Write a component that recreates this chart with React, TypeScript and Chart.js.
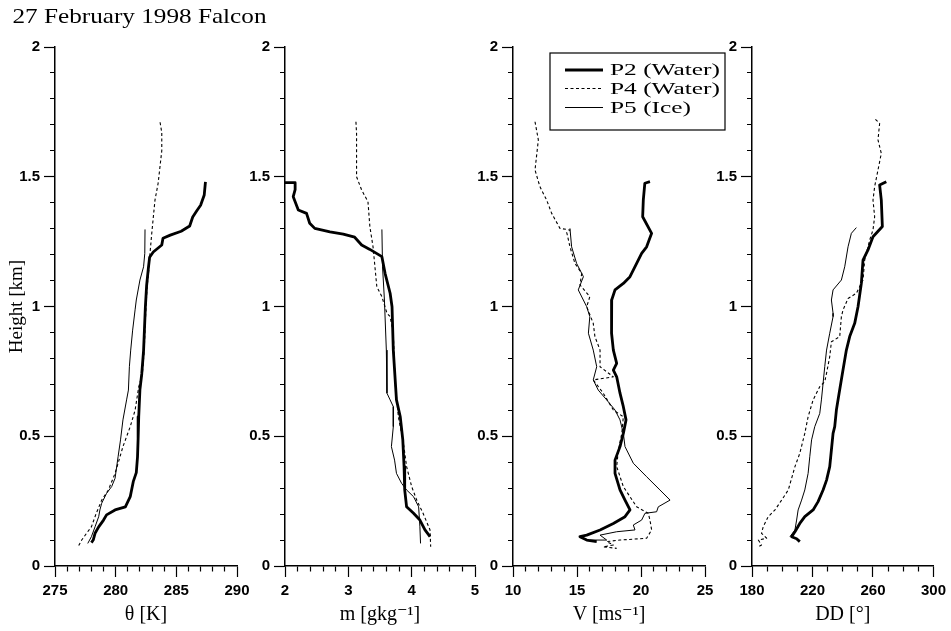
import React, { useEffect, useRef } from "react";
import { Chart, registerables } from "chart.js";

Chart.register(...registerables);

const SERIF = "'Liberation Serif', 'DejaVu Serif', serif";
const SANS = "'Liberation Sans', Arial, sans-serif";

// ---- data: [value, height km], top to bottom ----
const thetaP2 = [[287.4,1.48],[287.3,1.43],[287.0,1.39],[286.7,1.37],[286.35,1.345],[286.1,1.31],[285.4,1.29],[284.5,1.275],[283.9,1.263],[283.8,1.237],[283.1,1.21],[282.8,1.19],[282.7,1.15],[282.55,1.08],[282.45,1.0],[282.3,0.83],[282.15,0.74],[282.0,0.68],[281.9,0.575],[281.85,0.49],[281.8,0.42],[281.7,0.36],[281.45,0.325],[281.2,0.267],[280.8,0.228],[279.95,0.216],[279.25,0.197],[279.0,0.177],[278.6,0.151],[278.3,0.126],[278.15,0.1],[278.0,0.09]];
const thetaP4 = [[283.66,1.71],[283.8,1.67],[283.8,1.6],[283.5,1.475],[283.24,1.41],[282.97,1.28],[282.83,1.205],[282.75,1.15],[282.6,1.08],[282.5,1.0],[282.35,0.83],[282.2,0.74],[281.9,0.69],[281.6,0.6],[281.2,0.537],[280.6,0.46],[280.2,0.396],[279.95,0.357],[279.4,0.293],[278.85,0.254],[278.4,0.203],[278.0,0.151],[277.6,0.126],[277.2,0.1],[276.9,0.074]];
const thetaP5 = [[282.42,1.297],[282.4,1.205],[282.3,1.153],[282.0,1.102],[281.7,1.025],[281.6,0.987],[281.4,0.909],[281.24,0.832],[281.13,0.768],[281.05,0.678],[280.9,0.64],[280.6,0.563],[280.4,0.486],[280.2,0.421],[279.95,0.338],[279.67,0.306],[279.25,0.28],[278.85,0.242],[278.7,0.216],[278.6,0.19],[278.3,0.151],[278.0,0.113],[277.7,0.087]];

const mP2 = [[2.0,1.477],[2.16,1.477],[2.16,1.45],[2.13,1.423],[2.21,1.372],[2.34,1.359],[2.39,1.321],[2.47,1.301],[2.71,1.288],[2.92,1.279],[3.1,1.267],[3.21,1.237],[3.34,1.22],[3.53,1.192],[3.58,1.128],[3.66,1.051],[3.69,0.999],[3.71,0.832],[3.76,0.64],[3.82,0.575],[3.86,0.486],[3.88,0.383],[3.89,0.293],[3.92,0.228],[4.03,0.203],[4.13,0.177],[4.21,0.139],[4.29,0.113]];
const mP4 = [[3.12,1.712],[3.13,1.667],[3.13,1.5],[3.21,1.449],[3.31,1.404],[3.34,1.308],[3.39,1.23],[3.42,1.153],[3.45,1.076],[3.53,1.038],[3.61,0.974],[3.66,0.961],[3.71,0.897],[3.74,0.704],[3.79,0.575],[3.87,0.473],[3.92,0.383],[4.0,0.306],[4.08,0.254],[4.18,0.203],[4.29,0.139],[4.3,0.074]];
const mP5 = [[3.53,1.297],[3.54,1.153],[3.57,1.025],[3.6,0.832],[3.61,0.666],[3.66,0.64],[3.71,0.614],[3.71,0.537],[3.68,0.46],[3.73,0.408],[3.76,0.357],[3.84,0.319],[3.92,0.293],[4.03,0.267],[4.11,0.228],[4.13,0.151],[4.14,0.087]];

const vP2 = [[20.7,1.481],[20.3,1.475],[20.18,1.41],[20.13,1.346],[20.83,1.282],[20.44,1.23],[20.05,1.205],[19.66,1.166],[19.14,1.115],[18.62,1.089],[17.97,1.064],[17.71,1.025],[17.7,0.99],[17.7,0.897],[17.84,0.832],[18.1,0.781],[17.84,0.755],[18.1,0.729],[18.36,0.666],[18.62,0.614],[18.83,0.563],[18.62,0.511],[18.36,0.46],[17.97,0.408],[17.97,0.357],[18.36,0.293],[18.75,0.254],[19.14,0.216],[18.75,0.19],[17.84,0.164],[16.8,0.139],[15.76,0.119],[15.23,0.113],[15.76,0.1],[16.54,0.094]];
const vP4 = [[11.72,1.712],[11.98,1.642],[11.72,1.526],[12.1,1.462],[12.63,1.41],[13.02,1.359],[13.67,1.301],[14.45,1.295],[14.2,1.285],[14.45,1.23],[14.84,1.166],[15.37,1.128],[15.23,1.083],[16.0,1.038],[15.76,0.999],[16.27,0.935],[16.4,0.884],[16.8,0.832],[16.8,0.768],[17.84,0.729],[16.27,0.717],[17.05,0.666],[17.84,0.601],[18.62,0.575],[18.5,0.511],[18.23,0.447],[18.1,0.383],[18.62,0.306],[19.14,0.267],[19.66,0.228],[20.57,0.203],[20.7,0.177],[20.83,0.139],[20.44,0.107],[18.36,0.1],[17.32,0.094],[17.84,0.081],[17.05,0.074],[18.1,0.068]];
const vP5 = [[14.45,1.301],[14.58,1.23],[14.97,1.166],[15.5,1.115],[15.1,1.064],[15.76,0.999],[16.0,0.961],[15.89,0.897],[16.27,0.832],[16.54,0.768],[16.27,0.717],[16.66,0.678],[17.32,0.64],[17.97,0.601],[18.36,0.563],[18.62,0.511],[18.75,0.46],[19.4,0.396],[20.44,0.344],[21.48,0.293],[22.27,0.254],[21.35,0.228],[21.22,0.209],[20.31,0.203],[20.05,0.177],[19.4,0.158],[19.53,0.139],[18.1,0.132],[16.8,0.119],[17.32,0.1],[16.0,0.1]];

const ddP2 = [[268.8,1.481],[264.4,1.468],[265.5,1.41],[266.2,1.308],[260.0,1.269],[256.7,1.218],[253.4,1.179],[252.3,1.089],[250.1,0.999],[247.9,0.935],[244.6,0.884],[242.4,0.832],[239.8,0.743],[237.6,0.666],[235.8,0.601],[234.7,0.537],[233.6,0.511],[232.5,0.447],[231.4,0.383],[229.3,0.331],[227.0,0.293],[223.7,0.248],[220.4,0.216],[214.9,0.19],[211.6,0.164],[208.4,0.132],[206.2,0.113],[209.5,0.105],[211.6,0.094]];
const ddP4 = [[261.6,1.721],[264.4,1.706],[263.3,1.642],[265.5,1.59],[263.3,1.526],[261.1,1.462],[260.0,1.41],[261.1,1.346],[260.0,1.295],[257.8,1.256],[254.5,1.179],[253.4,1.102],[249.0,1.051],[243.5,1.031],[240.2,0.987],[239.1,0.961],[238.0,0.884],[232.5,0.864],[231.4,0.807],[229.3,0.743],[228.1,0.71],[224.8,0.691],[220.4,0.64],[217.1,0.575],[214.9,0.511],[211.6,0.434],[208.4,0.383],[204.0,0.293],[199.6,0.254],[195.2,0.216],[190.7,0.19],[187.4,0.151],[186.3,0.126],[189.7,0.107],[184.2,0.1],[186.3,0.081],[184.2,0.074]];
const ddP5 = [[249.0,1.304],[245.7,1.282],[243.5,1.23],[241.3,1.153],[239.1,1.102],[233.6,1.064],[232.5,1.025],[233.6,0.974],[233.6,0.961],[231.4,0.897],[229.3,0.832],[228.1,0.768],[227.0,0.704],[225.9,0.64],[224.8,0.588],[221.5,0.537],[219.4,0.486],[218.2,0.421],[217.1,0.357],[214.9,0.293],[212.8,0.254],[210.5,0.216],[209.5,0.177],[208.4,0.139],[205.1,0.113]];

const seriesLabels = ["P2 (Water)", "P4 (Water)", "P5 (Ice)"];
const chartTitle = "27 February 1998 Falcon";
const yTitleText = "Height [km]";
const heightRange = [0, 2];

type Panel = {
  left: number; width: number; padRight: number;
  xMin: number; xMax: number; major: number; minor: number;
  xTitle: string; yTitle?: string; title?: boolean; legend?: boolean;
  series: number[][][];
};

const panels: Panel[] = [
  { left: 0, width: 275, padRight: 38, xMin: 275, xMax: 290, major: 5, minor: 1, xTitle: "θ [K]", yTitle: yTitleText, title: true, series: [thetaP2, thetaP4, thetaP5] },
  { left: 230, width: 265, padRight: 20, xMin: 2, xMax: 5, major: 1, minor: 0.2, xTitle: "m [gkg⁻¹]", series: [mP2, mP4, mP5] },
  { left: 458, width: 272, padRight: 25, xMin: 10, xMax: 25, major: 5, minor: 1, xTitle: "V [ms⁻¹]", legend: true, series: [vP2, vP4, vP5] },
  { left: 697, width: 254, padRight: 17, xMin: 180, xMax: 300, major: 40, minor: 10, xTitle: "DD [°]", series: [ddP2, ddP4, ddP5] },
];

const styles = [
  { borderWidth: 2.8, borderDash: [] as number[] },
  { borderWidth: 1.1, borderDash: [3, 2.5] },
  { borderWidth: 1.0, borderDash: [] as number[] },
];

const isMajor = (v: number, base: number, step: number) => {
  const r = (v - base) / step;
  return Math.abs(r - Math.round(r)) < 1e-6;
};
const fmt = (v: number) => String(Math.round(v * 1000) / 1000);

const titlePlugin = {
  id: "mainTitle",
  afterDraw(chart: any) {
    const ctx = chart.ctx;
    ctx.save();
    ctx.font = `21px ${SERIF}`;
    ctx.fillStyle = "#000";
    ctx.textBaseline = "alphabetic";
    const w = ctx.measureText(chartTitle).width;
    const sx = Math.min(1.4, 254 / w);
    ctx.translate(12.5, 23);
    ctx.scale(sx, 1);
    ctx.fillText(chartTitle, 0, 0);
    ctx.restore();
  },
};

const legendPlugin = {
  id: "boxLegend",
  afterDraw(chart: any) {
    const ctx = chart.ctx;
    const { left, top } = chart.chartArea;
    const bx = left + 37, by = top + 6, bw = 175, bh = 77;
    ctx.save();
    ctx.fillStyle = "#fff";
    ctx.fillRect(bx, by, bw, bh);
    ctx.strokeStyle = "#000";
    ctx.lineWidth = 1.2;
    ctx.strokeRect(bx, by, bw, bh);
    const rows = [23, 41.5, 60.5];
    ctx.font = `16px ${SERIF}`;
    const w0 = ctx.measureText(seriesLabels[0]).width;
    const sx = Math.min(1.6, 110 / w0);
    seriesLabels.forEach((lab, i) => {
      const y = top + rows[i];
      ctx.beginPath();
      ctx.lineWidth = styles[i].borderWidth;
      ctx.setLineDash(styles[i].borderDash);
      ctx.moveTo(left + 52, y);
      ctx.lineTo(left + 90, y);
      ctx.stroke();
      ctx.setLineDash([]);
      ctx.save();
      ctx.fillStyle = "#000";
      ctx.textBaseline = "middle";
      ctx.translate(left + 97, y + 1);
      ctx.scale(sx, 1);
      ctx.fillText(lab, 0, 0);
      ctx.restore();
    });
    ctx.restore();
  },
};

function makeConfig(p: Panel): any {
  const datasets = p.series.map((s, i) => ({
    label: seriesLabels[i],
    data: s.map(([x, y]) => ({ x, y })),
    borderColor: "#000",
    backgroundColor: "#000",
    borderWidth: styles[i].borderWidth,
    borderDash: styles[i].borderDash,
    borderJoinStyle: "round",
    borderCapStyle: "butt",
    pointRadius: 0,
    tension: 0,
    fill: false,
  }));
  const tickFont = { family: SANS, size: 15, weight: "bold" };
  const plugins: any[] = [];
  if (p.title) plugins.push(titlePlugin);
  if (p.legend) plugins.push(legendPlugin);
  return {
    type: "line",
    data: { datasets },
    plugins,
    options: {
      responsive: false,
      animation: false,
      devicePixelRatio: 1,
      events: [],
      layout: { padding: { top: 47, bottom: 0, left: 0, right: p.padRight } },
      plugins: { legend: { display: false }, tooltip: { enabled: false }, title: { display: false } },
      scales: {
        x: {
          type: "linear",
          min: p.xMin,
          max: p.xMax,
          afterFit: (s: any) => { s.height = 65; },
          ticks: {
            stepSize: p.minor,
            maxTicksLimit: 500,
            autoSkip: false,
            maxRotation: 0,
            minRotation: 0,
            padding: 5,
            color: "#000",
            font: tickFont,
            callback: (v: any) => (isMajor(Number(v), p.xMin, p.major) ? fmt(Number(v)) : ""),
          },
          grid: {
            display: true,
            drawOnChartArea: false,
            drawTicks: true,
            tickLength: 11,
            tickColor: "#000",
            tickWidth: 1.2,
            tickBorderDash: (c: any) => (c.tick && isMajor(c.tick.value, p.xMin, p.major) ? [] : [5, 100]),
          },
          border: { display: true, color: "#000", width: 1.5 },
          title: {
            display: true,
            text: p.xTitle,
            color: "#000",
            font: { family: SERIF, size: 20 },
            padding: { top: 0, bottom: 4 },
          },
        },
        y: {
          type: "linear",
          min: heightRange[0],
          max: heightRange[1],
          afterFit: (s: any) => { s.width = 55; },
          ticks: {
            stepSize: 0.1,
            maxTicksLimit: 500,
            autoSkip: false,
            padding: 4,
            color: "#000",
            font: tickFont,
            callback: (v: any) => (isMajor(Number(v), 0, 0.5) ? fmt(Number(v)) : ""),
          },
          grid: {
            display: true,
            drawOnChartArea: false,
            drawTicks: true,
            tickLength: 11,
            tickColor: "#000",
            tickWidth: 1.2,
            tickBorderDash: (c: any) => (c.tick && isMajor(c.tick.value, 0, 0.5) ? [] : [0, 6, 10, 100]),
          },
          border: { display: true, color: "#000", width: 1.5 },
          title: p.yTitle
            ? { display: true, text: p.yTitle, color: "#000", font: { family: SERIF, size: 19 }, padding: { top: 6, bottom: 0 } }
            : { display: false },
        },
      },
    },
  };
}

function PanelChart({ panel }: { panel: Panel }) {
  const ref = useRef<HTMLCanvasElement>(null);
  useEffect(() => {
    const chart = new Chart(ref.current as HTMLCanvasElement, makeConfig(panel));
    return () => chart.destroy();
  }, [panel]);
  return (
    <canvas
      ref={ref}
      width={panel.width}
      height={631}
      style={{ position: "absolute", left: panel.left, top: 0, width: panel.width, height: 631 }}
    />
  );
}

export default function App() {
  return (
    <div style={{ position: "absolute", left: 0, top: 0, width: 951, height: 631, background: "#fff", overflow: "hidden" }}>
      {panels.map((p, i) => (
        <PanelChart key={i} panel={p} />
      ))}
    </div>
  );
}
